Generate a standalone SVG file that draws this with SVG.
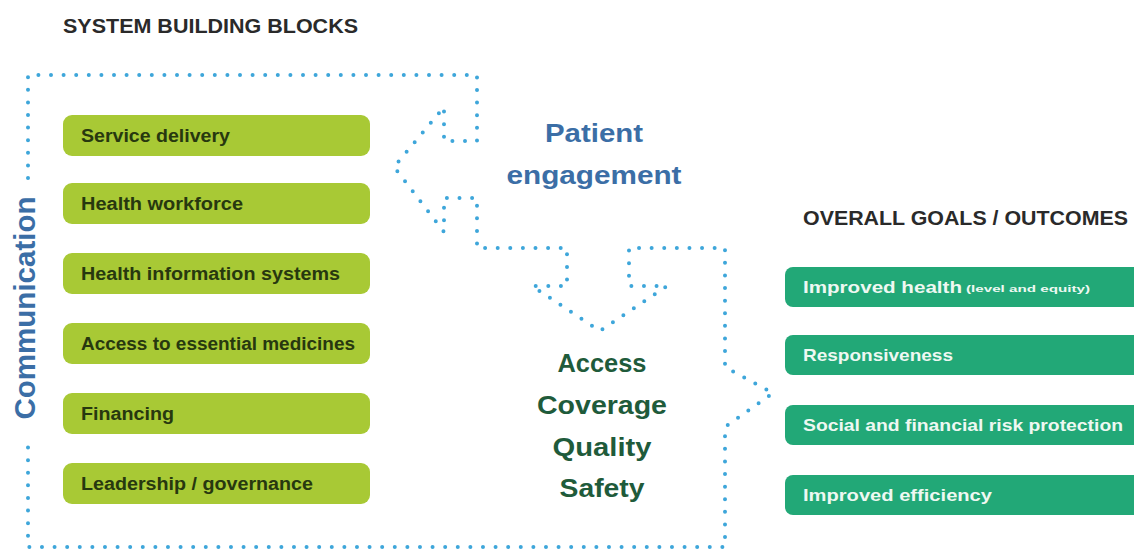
<svg xmlns="http://www.w3.org/2000/svg" width="1134" height="550" viewBox="0 0 1134 550">
<style>
.bg{fill:#ffffff}
.title{font-family:"Liberation Sans",Arial,sans-serif;font-weight:bold;fill:#2a2a2a}
.gbox{fill:#a8c935}
.gtxt{font-family:"Liberation Sans",Arial,sans-serif;font-weight:bold;font-size:18px;fill:#27380f}
.tbox{fill:#22a877}
.ttxt{font-family:"Liberation Sans",Arial,sans-serif;font-weight:bold;font-size:17px;fill:#eef8f2}
.small{font-size:9px}
.blue{font-family:"Liberation Sans",Arial,sans-serif;font-weight:bold;fill:#3b6ea6}
.dgreen{font-family:"Liberation Sans",Arial,sans-serif;font-weight:bold;font-size:25px;fill:#1f5b3b;text-anchor:middle}
.dot{fill:none;stroke:#3ea6da;stroke-width:4;stroke-linecap:round;stroke-linejoin:round;stroke-dasharray:0 12.6}
</style>
<rect class="bg" x="0" y="0" width="1134" height="550"/>

<text class="title" x="63" y="33" font-size="21" textLength="295" lengthAdjust="spacingAndGlyphs">SYSTEM BUILDING BLOCKS</text>
<text class="title" x="803" y="225" font-size="20" textLength="325" lengthAdjust="spacingAndGlyphs">OVERALL GOALS / OUTCOMES</text>

<g id="connectors">
  <path class="dot" d="M28,178 L28,75 L477,75 L477,141 L444,141 L444,107 L394,167 L444,232 L444,198 L477,198 L477,248 L567,248 L567,286 L532,286 L600,331 L667,286 L629,286 L629,248 L725,248 L725,367 L773,393 L725,427 L725,547 L28,547 L28,443"/>
</g>

<g id="communication">
  <text class="blue" font-size="30" text-anchor="middle" transform="translate(35,308) rotate(-90)" textLength="223" lengthAdjust="spacingAndGlyphs">Communication</text>
</g>

<g id="patient-engagement">
  <text class="blue" font-size="26" x="594" y="142" text-anchor="middle" textLength="98" lengthAdjust="spacingAndGlyphs">Patient</text>
  <text class="blue" font-size="26" x="594" y="184" text-anchor="middle" textLength="175" lengthAdjust="spacingAndGlyphs">engagement</text>
</g>

<g id="access-coverage">
  <text class="dgreen" x="602" y="372" textLength="89" lengthAdjust="spacingAndGlyphs">Access</text>
  <text class="dgreen" x="602" y="414" textLength="130" lengthAdjust="spacingAndGlyphs">Coverage</text>
  <text class="dgreen" x="602" y="456" textLength="99" lengthAdjust="spacingAndGlyphs">Quality</text>
  <text class="dgreen" x="602" y="497" textLength="85" lengthAdjust="spacingAndGlyphs">Safety</text>
</g>

<g id="service-delivery">
  <rect class="gbox" x="63" y="115" width="307" height="41" rx="9"/>
  <text class="gtxt" x="81" y="142" textLength="149" lengthAdjust="spacingAndGlyphs">Service delivery</text>
</g>
<g id="health-workforce">
  <rect class="gbox" x="63" y="183" width="307" height="41" rx="9"/>
  <text class="gtxt" x="81" y="210" textLength="162" lengthAdjust="spacingAndGlyphs">Health workforce</text>
</g>
<g id="health-information-systems">
  <rect class="gbox" x="63" y="253" width="307" height="41" rx="9"/>
  <text class="gtxt" x="81" y="280" textLength="259" lengthAdjust="spacingAndGlyphs">Health information systems</text>
</g>
<g id="access-medicines">
  <rect class="gbox" x="63" y="323" width="307" height="41" rx="9"/>
  <text class="gtxt" x="81" y="350" textLength="274" lengthAdjust="spacingAndGlyphs">Access to essential medicines</text>
</g>
<g id="financing">
  <rect class="gbox" x="63" y="393" width="307" height="41" rx="9"/>
  <text class="gtxt" x="81" y="420" textLength="93" lengthAdjust="spacingAndGlyphs">Financing</text>
</g>
<g id="leadership">
  <rect class="gbox" x="63" y="463" width="307" height="41" rx="9"/>
  <text class="gtxt" x="81" y="490" textLength="232" lengthAdjust="spacingAndGlyphs">Leadership / governance</text>
</g>

<g id="improved-health">
  <rect class="tbox" x="785" y="267" width="360" height="40" rx="8"/>
  <text class="ttxt" x="803" y="293" textLength="159" lengthAdjust="spacingAndGlyphs">Improved health</text>
  <text class="ttxt small" x="966" y="292" textLength="124" lengthAdjust="spacingAndGlyphs">(level and equity)</text>
</g>
<g id="responsiveness">
  <rect class="tbox" x="785" y="335" width="360" height="40" rx="8"/>
  <text class="ttxt" x="803" y="361" textLength="150" lengthAdjust="spacingAndGlyphs">Responsiveness</text>
</g>
<g id="social-financial">
  <rect class="tbox" x="785" y="405" width="360" height="40" rx="8"/>
  <text class="ttxt" x="803" y="431" textLength="320" lengthAdjust="spacingAndGlyphs">Social and financial risk protection</text>
</g>
<g id="improved-efficiency">
  <rect class="tbox" x="785" y="475" width="360" height="40" rx="8"/>
  <text class="ttxt" x="803" y="501" textLength="189" lengthAdjust="spacingAndGlyphs">Improved efficiency</text>
</g>
</svg>
